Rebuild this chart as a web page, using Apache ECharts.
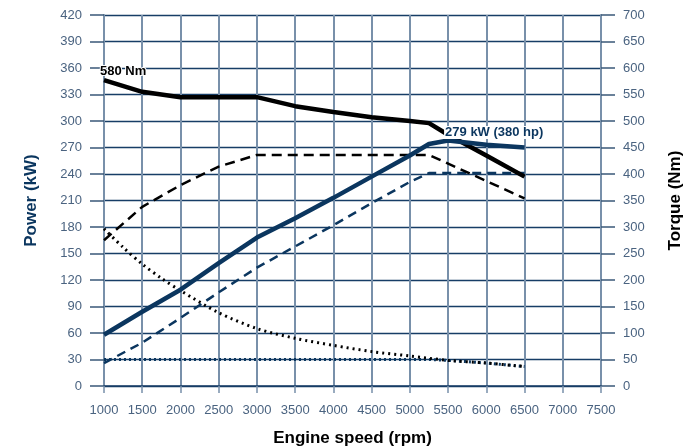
<!DOCTYPE html>
<html>
<head>
<meta charset="utf-8">
<script src="https://cdn.jsdelivr.net/npm/echarts@6/dist/echarts.min.js"></script>
<style>
html,body{margin:0;padding:0;background:#fff;}
#chart{width:690px;height:448px;}
</style>
</head>
<body>
<div id="chart"></div>
<script>
// Engine speed (rpm) per series
const torqueMaxRpm   = [1000, 1500, 2000, 3000, 3500, 4000, 4500, 5000, 5250, 5500, 6000, 6500];
const torqueMaxNm    = [577, 555, 545, 545, 528, 517, 507, 500, 496, 474, 435, 395];

const powerMaxRpm    = [1000, 1500, 2000, 2500, 3000, 3500, 4000, 4500, 5000, 5250, 5500, 6000, 6500];
const powerMaxKw     = [58, 84, 109, 139, 168, 190, 213, 237, 261, 274, 278, 273, 270];

const torqueLowRpm   = [1000, 1500, 2000, 2500, 3000, 3500, 4000, 4500, 5000, 5250, 6500];
const torqueLowNm    = [275, 338, 379, 414, 436, 436, 436, 436, 436, 436, 354];

const powerLowRpm    = [1000, 1500, 2000, 2500, 3000, 3500, 4000, 4500, 5000, 5250, 6500];
const powerLowKw     = [26, 49, 77, 106, 134, 158, 182, 207, 231, 241, 241];

const dottedBlackRpm = [1000, 1250, 1500, 1750, 2000, 2500, 3000, 3500, 4000, 4500, 5000, 5500, 6000, 6500];
const dottedBlackKw  = [178, 157, 138, 122, 108, 83, 65, 54, 46, 39, 34, 29, 26, 22];

const dottedNavyRpm  = [1000, 2000, 3000, 4000, 5000, 5250, 5500, 6000, 6500];
const dottedNavyKw   = [30, 30, 30, 30, 30, 30, 29, 26, 22];

const powerTicks  = {min: 0, max: 420, step: 30};
const torqueTicks = {min: 0, max: 700, step: 50};
const rpmTicks    = {min: 1000, max: 7500, step: 500};

const peakTorqueLabel = '580 Nm';
const peakPowerLabel  = '279 kW (380 hp)';
const peakPowerRpm = 5500;

const NAVY = '#0b365f';
const GRIDV = '#7890aa';
const GRIDH = '#173d66';
const LABEL = '#4a6380';
const FONT = "'Liberation Sans', Arial, sans-serif";
const BOLD = "'Liberation Sans', Arial, sans-serif";

function pairs(xs, ys){ return xs.map((x,i)=>[x, ys[i]]); }

const torqueMaxData = pairs(torqueMaxRpm, torqueMaxNm);
torqueMaxData[0] = {value: torqueMaxData[0], symbol: 'circle', symbolSize: 1, label: {
  show: true, formatter: peakTorqueLabel, position: 'top', align: 'left', offset: [-4, 3],
  fontFamily: BOLD, fontWeight: 'bold', fontSize: 13, color: '#000',
  textBorderColor: '#fff', textBorderWidth: 2
}};
const powerMaxData = pairs(powerMaxRpm, powerMaxKw);
const peakIdx = powerMaxRpm.indexOf(peakPowerRpm);
powerMaxData[peakIdx] = {value: powerMaxData[peakIdx], symbol: 'circle', symbolSize: 1, label: {
  show: true, formatter: peakPowerLabel, position: 'top', align: 'left', offset: [-4, 4],
  fontFamily: BOLD, fontWeight: 'bold', fontSize: 13, color: NAVY,
  backgroundColor: '#fff', padding: [0, 1]
}};

const chart = echarts.init(document.getElementById('chart'), null, {renderer: 'canvas'});
chart.setOption({
  animation: false,
  backgroundColor: '#fff',
  grid: {left: 104, right: 89, top: 15, bottom: 62, containLabel: false, outerBoundsMode: 'none'},
  xAxis: {
    type: 'value', min: rpmTicks.min, max: rpmTicks.max, interval: rpmTicks.step,
    name: 'Engine speed (rpm)', nameLocation: 'middle', nameGap: 44,
    nameTextStyle: {fontFamily: BOLD, fontWeight: 'bold', fontSize: 17, color: '#000'},
    axisLine: {show: true, lineStyle: {color: GRIDH, width: 1.5}},
    axisTick: {show: true, length: 7, lineStyle: {color: GRIDV, width: 1.5}},
    axisLabel: {fontFamily: FONT, fontSize: 13, color: LABEL, margin: 18, formatter: v => String(v)},
    splitLine: {show: true, lineStyle: {color: GRIDV, width: 2}}
  },
  yAxis: [{
    type: 'value', min: powerTicks.min, max: powerTicks.max, interval: powerTicks.step,
    position: 'left',
    name: 'Power (kW)', nameLocation: 'middle', nameGap: 64,
    nameTextStyle: {fontFamily: BOLD, fontWeight: 'bold', fontSize: 17, color: NAVY},
    axisLine: {show: true, lineStyle: {color: GRIDV, width: 2}},
    axisTick: {show: true, length: 14, lineStyle: {color: '#3a5878', width: 1.5}},
    axisLabel: {fontFamily: FONT, fontSize: 13, color: LABEL, margin: 22},
    splitLine: {show: true, lineStyle: {color: GRIDH, width: 1.3}}
  }, {
    type: 'value', min: torqueTicks.min, max: torqueTicks.max, interval: torqueTicks.step,
    position: 'right',
    name: 'Torque (Nm)', nameLocation: 'middle', nameGap: 66,
    nameTextStyle: {fontFamily: BOLD, fontWeight: 'bold', fontSize: 17, color: '#000'},
    axisLine: {show: true, lineStyle: {color: GRIDV, width: 2}},
    axisTick: {show: true, length: 14, lineStyle: {color: '#3a5878', width: 1.5}},
    axisLabel: {fontFamily: FONT, fontSize: 13, color: LABEL, margin: 22},
    splitLine: {show: false}
  }],
  series: [
    {name: 'dotted navy', type: 'line', yAxisIndex: 0, data: pairs(dottedNavyRpm, dottedNavyKw),
     symbol: 'none', lineStyle: {color: NAVY, width: 3, type: [2, 3]}},
    {name: 'dotted black', type: 'line', yAxisIndex: 0, data: pairs(dottedBlackRpm, dottedBlackKw),
     symbol: 'none', smooth: 0.3, lineStyle: {color: '#000', width: 3, type: [2, 4]}},
    {name: 'power low', type: 'line', yAxisIndex: 0, data: pairs(powerLowRpm, powerLowKw),
     symbol: 'none', lineStyle: {color: NAVY, width: 2.5, type: [9, 6]}},
    {name: 'torque low', type: 'line', yAxisIndex: 1, data: pairs(torqueLowRpm, torqueLowNm),
     symbol: 'none', lineStyle: {color: '#000', width: 2.5, type: [10, 6]}},
    {name: 'torque max', type: 'line', yAxisIndex: 1, data: torqueMaxData,
     symbol: 'none', showSymbol: true, itemStyle: {color: 'rgba(0,0,0,0)'},
     lineStyle: {color: '#000', width: 4.5}, z: 4},
    {name: 'power max', type: 'line', yAxisIndex: 0, data: powerMaxData,
     symbol: 'none', showSymbol: true, itemStyle: {color: 'rgba(0,0,0,0)'},
     lineStyle: {color: NAVY, width: 4.5}, z: 5}
  ]
});
</script>
</body>
</html>
